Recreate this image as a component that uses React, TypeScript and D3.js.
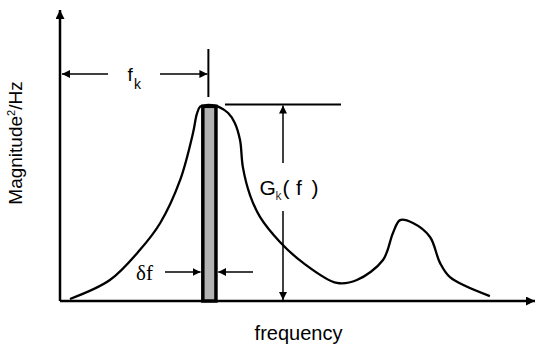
import React from "react";
import * as d3 from "d3";

// Spectrum curve (frequency in arbitrary units 0..100, magnitude 0..100)
const freq = [2.1, 10.5, 16.8, 21.1, 25.3, 28.0, 28.8, 29.5, 30.7, 32.0, 33.3, 35.4, 36.8, 37.9, 38.5, 40.0, 42.1, 46.3, 51.2, 58.3, 62.5, 68.0, 70.1, 71.6, 74.3, 77.9, 80.0, 82.1, 90.5];
const magnitude = [0.7, 7.2, 17.5, 26.8, 41.6, 57.7, 64.2, 66.8, 67.3, 67.3, 66.8, 64.6, 61.2, 55.3, 46.0, 36.4, 28.9, 20.3, 13.1, 6.2, 7.2, 14.1, 23.4, 27.8, 26.8, 22.0, 13.1, 8.2, 1.7];

// Band of interest
const bandStart = [29.7];
const bandEnd = [33.2];
const bandHeight = [67.5];

const labels = {
  y: "Magnitude",
  x: "frequency",
};

const W = 536;
const H = 351;

export default function App() {
  const x = d3.scaleLinear().domain([0, 100]).range([60, 535]);
  const y = d3.scaleLinear().domain([0, 100]).range([301, 10]);

  const pts: [number, number][] = freq.map((f, i) => [f, magnitude[i]]);
  const line = d3
    .line<[number, number]>()
    .x((d) => x(d[0]))
    .y((d) => y(d[1]))
    .curve(d3.curveCatmullRom.alpha(0.5));

  const b0 = x(bandStart[0]);
  const b1 = x(bandEnd[0]);
  const bc = (b0 + b1) / 2;
  const bt = y(bandHeight[0]);
  const y0 = y(0);
  const gx = 283;

  return (
    <svg
      width={W}
      height={H}
      style={{ position: "absolute", left: 0, top: 0, background: "#fff" }}
      fontFamily="Liberation Sans, Arial, sans-serif"
    >
      <defs>
        <marker id="ah" viewBox="0 0 10 10" refX="10" refY="5" markerWidth="8" markerHeight="8" markerUnits="userSpaceOnUse" orient="auto-start-reverse">
          <path d="M0,0 L10,5 L0,10 z" fill="#000" />
        </marker>
        <marker id="ahBig" viewBox="0 0 10 10" refX="10" refY="5" markerWidth="9" markerHeight="9" markerUnits="userSpaceOnUse" orient="auto-start-reverse">
          <path d="M0,0 L10,5 L0,10 z" fill="#000" />
        </marker>
      </defs>

      {/* axes */}
      <line x1={x(0)} y1={y0} x2={x(100)} y2={y0} stroke="#000" strokeWidth={2.5} markerEnd="url(#ahBig)" />
      <line x1={x(0)} y1={y0} x2={x(0)} y2={y(100)} stroke="#000" strokeWidth={2.5} markerEnd="url(#ahBig)" />

      {/* curve */}
      <path d={line(pts) || ""} fill="none" stroke="#000" strokeWidth={2.3} strokeLinejoin="round" />

      {/* band bar */}
      <rect x={b0 + 1.75} y={bt + 1.75} width={b1 - b0 - 3.5} height={y0 - bt - 1.75} fill="#b3b3b3" stroke="#000" strokeWidth={3.5} />

      {/* f_k annotation */}
      <line x1={bc - 1} y1={49} x2={bc - 1} y2={97} stroke="#000" strokeWidth={2} />
      <line x1={108} y1={74} x2={x(0) + 2} y2={74} stroke="#000" strokeWidth={1.5} markerEnd="url(#ah)" />
      <line x1={160} y1={74} x2={bc - 2} y2={74} stroke="#000" strokeWidth={1.5} markerEnd="url(#ah)" />
      <text x={127.5} y={81} fontSize={19}>f</text>
      <text x={134} y={88.5} fontSize={14}>k</text>

      {/* top horizontal reference */}
      <line x1={225} y1={bt} x2={341} y2={bt} stroke="#000" strokeWidth={2} />

      {/* G_k(f) arrow */}
      <line x1={gx} y1={163} x2={gx} y2={bt + 1} stroke="#000" strokeWidth={1.5} markerEnd="url(#ah)" />
      <line x1={gx} y1={211} x2={gx} y2={y0 - 1} stroke="#000" strokeWidth={1.5} markerEnd="url(#ah)" />
      <text x={259.5} y={195} fontSize={21}>G</text>
      <text x={275.5} y={200} fontSize={12} fill="#333">k</text>
      <text x={282.5} y={195} fontSize={21}>(</text>
      <text x={296} y={195} fontSize={21}>f</text>
      <text x={311.5} y={195} fontSize={21}>)</text>

      {/* delta f */}
      <text x={136} y={280} fontSize={21} fontFamily="Liberation Serif, Times New Roman, serif">δf</text>
      <line x1={165} y1={272} x2={b0 - 0.5} y2={272} stroke="#000" strokeWidth={1.5} markerEnd="url(#ah)" />
      <line x1={253} y1={272} x2={b1 + 0.5} y2={272} stroke="#000" strokeWidth={1.5} markerEnd="url(#ah)" />

      {/* axis labels */}
      <text x={298.5} y={340} fontSize={20} textAnchor="middle">{labels.x}</text>
      <text transform="translate(22,143) rotate(-90)" fontSize={19} textAnchor="middle">
        {labels.y}
        <tspan fontSize={11} dy={-7}>2</tspan>
        <tspan dy={7}>/Hz</tspan>
      </text>
    </svg>
  );
}
